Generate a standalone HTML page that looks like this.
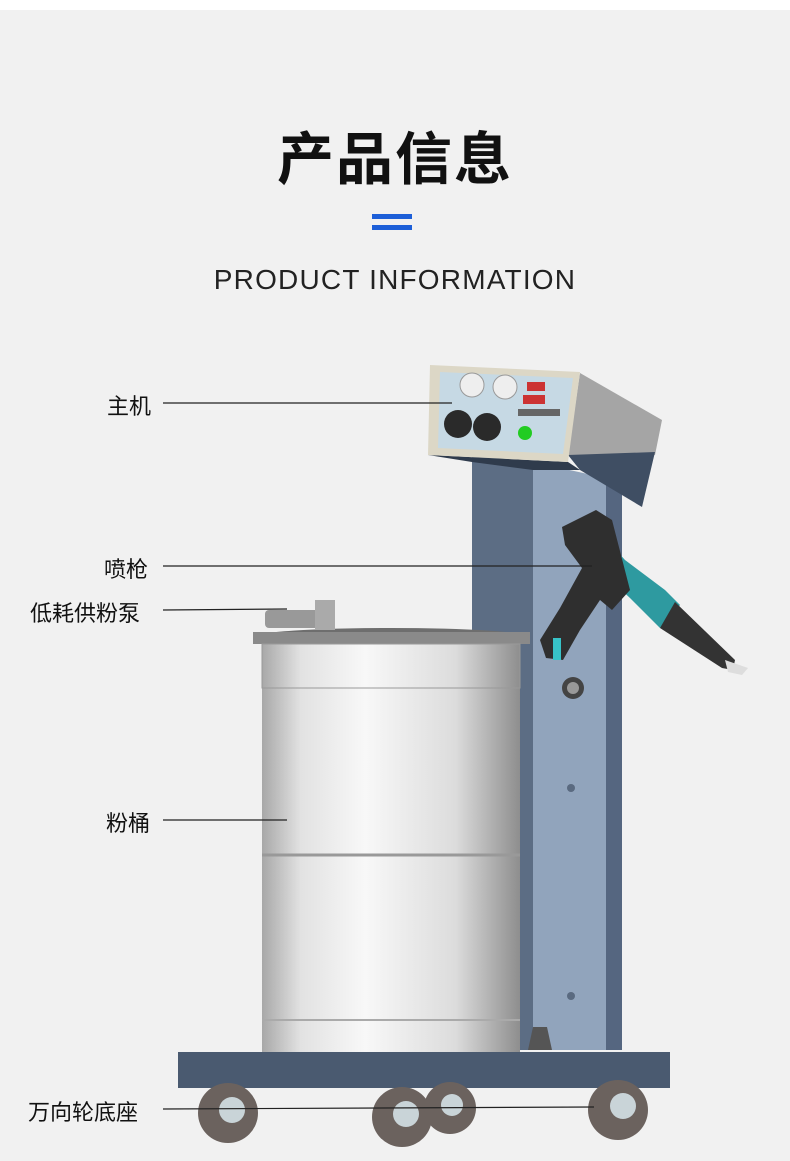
<!DOCTYPE html>
<html><head><meta charset="utf-8"><style>
html,body{margin:0;padding:0}
body{width:790px;height:1161px;background:#f1f1f1;position:relative;overflow:hidden;font-family:"Liberation Sans","Noto Sans CJK SC",sans-serif}
.t{position:absolute;white-space:nowrap;color:#111}
</style></head><body>
<div style="position:absolute;left:0;top:0;width:790px;height:10px;background:#fff"></div>
<div class="t" style="left:0;width:790px;text-align:center;top:114px;font-size:57px;font-weight:bold;letter-spacing:2px">产品信息</div>
<div style="position:absolute;left:372px;top:214px;width:40px;height:5px;background:#1d5fd8"></div>
<div style="position:absolute;left:372px;top:225px;width:40px;height:5px;background:#1d5fd8"></div>
<div class="t" style="left:0;width:790px;text-align:center;top:264px;font-size:28px;letter-spacing:1.2px;color:#222">PRODUCT INFORMATION</div>

<svg width="790" height="1161" style="position:absolute;left:0;top:0">
<defs>
<linearGradient id="dr" x1="0" x2="1">
<stop offset="0" stop-color="#a8a8a8"/><stop offset="0.15" stop-color="#e2e2e2"/><stop offset="0.4" stop-color="#f8f8f8"/><stop offset="0.75" stop-color="#dcdcdc"/><stop offset="1" stop-color="#8e8e8e"/>
</linearGradient>
</defs>
<!-- column -->
<polygon points="472,455 533,462 533,1050 472,1050" fill="#5c6d84"/>
<polygon points="533,462 606,478 606,1050 533,1050" fill="#91a4bc"/>
<polygon points="606,478 622,490 622,1050 606,1050" fill="#556680"/>
<circle cx="571" cy="788" r="4" fill="#5a6a80"/><circle cx="571" cy="996" r="4" fill="#5a6a80"/>
<circle cx="573" cy="688" r="11" fill="#444"/><circle cx="573" cy="688" r="6" fill="#999"/>
<!-- panel box -->
<polygon points="580,373 662,420 655,455 568,455" fill="#a5a5a5"/>
<polygon points="568,455 655,452 642,507 580,470" fill="#3f4e63"/>
<polygon points="428,455 568,462 580,470 533,470 472,462" fill="#2f3b4c"/>
<polygon points="430,365 580,372 568,462 428,455" fill="#dcd7c6"/>
<polygon points="440,372 573,378 563,454 438,448" fill="#c6d9e4"/>
<circle cx="472" cy="385" r="12" fill="#eee" stroke="#999"/><circle cx="505" cy="387" r="12" fill="#eee" stroke="#999"/>
<rect x="527" y="382" width="18" height="9" fill="#c33"/><rect x="523" y="395" width="22" height="9" fill="#c33"/>
<rect x="518" y="409" width="42" height="7" fill="#666"/>
<circle cx="525" cy="433" r="7" fill="#2c2"/>
<circle cx="458" cy="424" r="14" fill="#2a2a2a"/><circle cx="487" cy="427" r="14" fill="#2a2a2a"/>
<!-- gun -->
<polygon points="596,528 625,560 665,590 680,605 660,628 630,598 600,570" fill="#2e9aa0"/>
<polygon points="675,602 735,660 733,670 722,668 660,628" fill="#333"/>
<polygon points="725,660 748,668 742,675 728,672" fill="#ddd"/>
<polygon points="562,527 596,510 612,520 630,590 612,610 600,600 580,630 563,660 546,658 540,640 560,608 582,568 565,545" fill="#2f2f2f"/>
<rect x="553" y="638" width="8" height="22" fill="#37c3c8"/>
<!-- drum -->
<rect x="262" y="640" width="258" height="412" fill="url(#dr)"/>
<ellipse cx="391" cy="637" rx="138" ry="9" fill="#6e6e6e"/>
<rect x="253" y="632" width="277" height="12" fill="#8a8a8a"/>
<rect x="262" y="644" width="258" height="44" fill="url(#dr)" stroke="#999"/>
<line x1="262" y1="855" x2="520" y2="855" stroke="#999" stroke-width="3"/>
<line x1="262" y1="1020" x2="520" y2="1020" stroke="#aaa" stroke-width="2"/>
<rect x="262" y="1022" width="258" height="30" fill="url(#dr)"/>
<!-- pump -->
<rect x="265" y="610" width="70" height="18" rx="4" fill="#999"/>
<rect x="315" y="600" width="20" height="30" fill="#aaa"/>
<polygon points="528,1050 533,1027 547,1027 552,1050" fill="#555"/>
<!-- base -->
<rect x="178" y="1052" width="492" height="36" fill="#4a5a70"/>
<!-- wheels -->
<g fill="#6b625e">
<circle cx="228" cy="1113" r="30"/><circle cx="402" cy="1117" r="30"/><circle cx="450" cy="1108" r="26"/><circle cx="618" cy="1110" r="30"/></g>
<g fill="#c9d4d8"><circle cx="232" cy="1110" r="13"/><circle cx="406" cy="1114" r="13"/><circle cx="452" cy="1105" r="11"/><circle cx="623" cy="1106" r="13"/></g>
<!-- leader lines -->
<g stroke="#222" stroke-width="1.2">
<line x1="163" y1="403" x2="452" y2="403"/>
<line x1="163" y1="566" x2="592" y2="566"/>
<line x1="163" y1="610" x2="287" y2="609"/>
<line x1="163" y1="820" x2="287" y2="820"/>
<line x1="163" y1="1109" x2="594" y2="1107"/>
</g>
</svg>
<div class="t" style="left:107px;top:389px;font-size:22px">主机</div>
<div class="t" style="left:104px;top:552px;font-size:22px">喷枪</div>
<div class="t" style="left:30px;top:596px;font-size:22px">低耗供粉泵</div>
<div class="t" style="left:106px;top:806px;font-size:22px">粉桶</div>
<div class="t" style="left:28px;top:1095px;font-size:22px">万向轮底座</div>
</body></html>
